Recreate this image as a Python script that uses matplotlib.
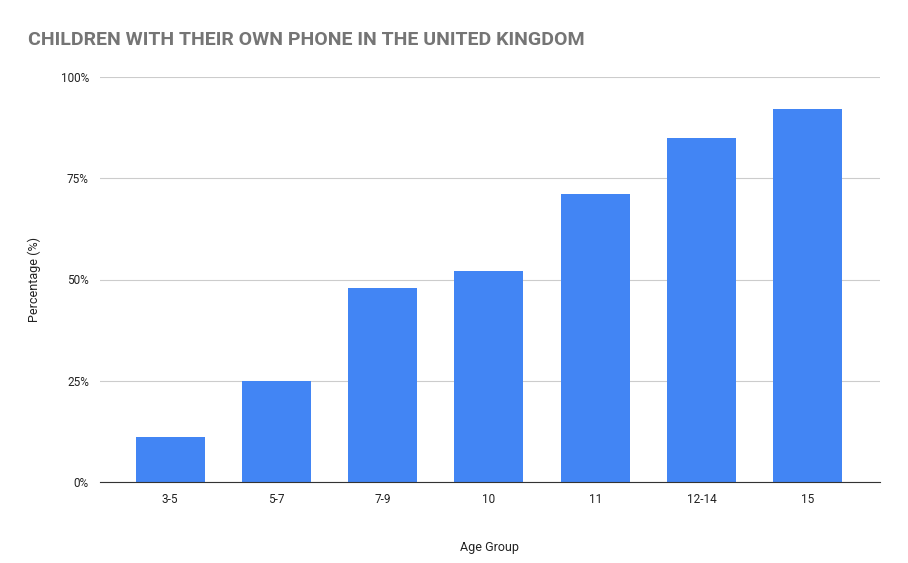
import matplotlib
matplotlib.use("Agg")
import matplotlib.pyplot as plt
from matplotlib.ticker import FuncFormatter

categories = ["3-5", "5-7", "7-9", "10", "11", "12-14", "15"]
values = [11, 25, 48, 52, 71, 85, 92]
yticks = [0, 25, 50, 75, 100]

plt.rcParams['font.family'] = ['Roboto', 'DejaVu Sans']
fig = plt.figure(figsize=(9.08, 5.63), dpi=100)
ax = fig.add_axes([100/908, 1-482/563, 780/908, 405/563])
x = list(range(len(categories)))
ax.bar(x, values, width=0.65, color="#4285f4", zorder=2)
ax.set_xlim(-0.66, 6.68)
ax.set_ylim(0, 100)
ax.set_yticks(yticks)
ax.yaxis.set_major_formatter(FuncFormatter(lambda v, p: f"{int(v)}%"))
ax.set_xticks(x)
ax.set_xticklabels(categories)
ax.grid(axis="y", color="#cccccc", linewidth=0.8, zorder=0)
for s in ["top", "right", "left"]:
    ax.spines[s].set_visible(False)
ax.spines["bottom"].set_color("#333333")
ax.tick_params(axis="both", length=0, labelsize=8.5, colors="#222222", pad=8)
ax.set_xlabel("Age Group", fontsize=9, color="#222222", labelpad=25)
ax.set_ylabel("Percentage (%)", fontsize=9, color="#222222", labelpad=14)
fig.text(28/908, 1-40/563, "CHILDREN WITH THEIR OWN PHONE IN THE UNITED KINGDOM",
         fontsize=14, fontweight="bold", color="#757575", va="center")
fig.savefig("out.png", dpi=100, facecolor="white")
